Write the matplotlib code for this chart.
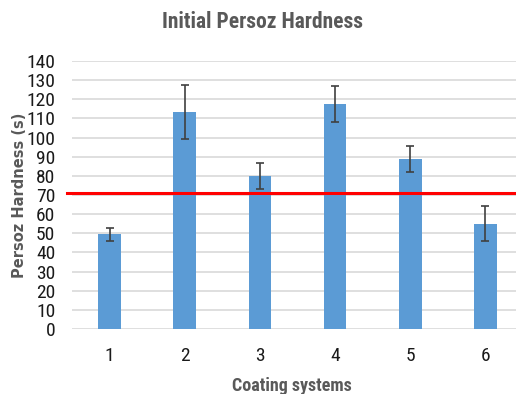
import matplotlib.pyplot as plt
import numpy as np

systems = ["1", "2", "3", "4", "5", "6"]
hardness = [49.5, 113.3, 79.8, 117.6, 88.8, 55.0]
errors = [3.3, 14.0, 6.7, 9.4, 6.7, 9.2]
threshold = 71
y_ticks = list(range(0, 150, 10))

narrow = ["Roboto Condensed", "DejaVu Sans"]
grey = "#595959"

fig = plt.figure(figsize=(5.16, 3.94), dpi=100)
ax = fig.add_axes([72 / 516, 65 / 394, 451 / 516, 268 / 394])

x = np.arange(1, len(systems) + 1)
ax.bar(x, hardness, width=0.3, color="#5B9BD5", zorder=2)
ax.errorbar(x, hardness, yerr=errors, fmt="none", ecolor="#404040",
            elinewidth=1.2, capsize=3, capthick=1.2, zorder=3)
ax.axhline(threshold, xmin=-0.011, xmax=1, color="#FF0000", linewidth=2.2,
           zorder=4, clip_on=False)

ax.set_xlim(0.5, 6.5)
ax.set_ylim(0, 140)
ax.set_yticks(y_ticks)
ax.set_xticks(x)
ax.set_xticklabels(systems)
ax.grid(axis="y", color="#D9D9D9", linewidth=1.2, zorder=0)
ax.set_axisbelow(True)
for s in ax.spines.values():
    s.set_visible(False)
ax.tick_params(length=0, colors="#1a1a1a")
ax.tick_params(axis="y", pad=12)
ax.tick_params(axis="x", pad=13)
for lab in ax.get_xticklabels() + ax.get_yticklabels():
    lab.set_family(narrow)
    lab.set_fontsize(14)

fig.text(263 / 516, 1 - 22 / 394, "Initial Persoz Hardness", ha="center",
         va="center", fontsize=15.5, fontweight="bold", color=grey, family=narrow)
fig.text(292 / 516, 1 - 386 / 394, "Coating systems", ha="center",
         va="center", fontsize=13, fontweight="bold", color=grey, family=narrow)
fig.text(20 / 516, 1 - 195 / 394, "Persoz Hardness (s)", ha="center",
         va="center", rotation=90, fontsize=10.5, fontweight="bold", color=grey)

fig.savefig("out.png", dpi=100)
